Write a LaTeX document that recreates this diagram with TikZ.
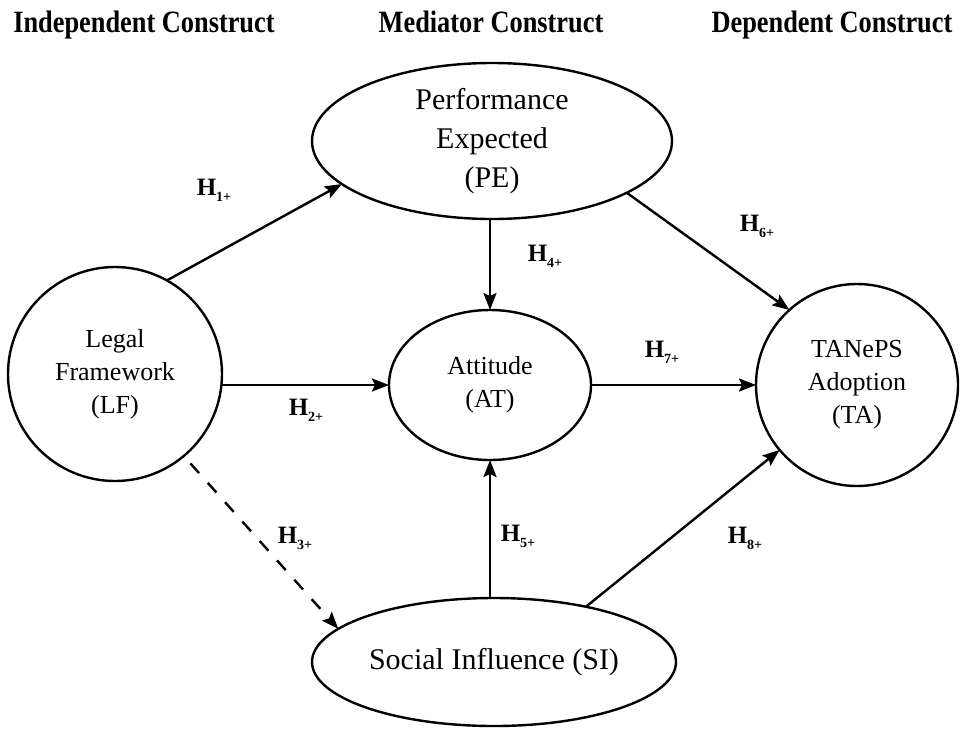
\documentclass[tikz,border=0pt]{standalone}
\usepackage{fontspec}
\setmainfont{Liberation Serif}
\newfontfamily\headfont{Liberation Serif}[FakeStretch=0.85]
\usetikzlibrary{arrows.meta,shapes.geometric}
\newcommand\hyp[1]{{\fontsize{25}{25}\selectfont\bfseries H}\raisebox{-6pt}{\fontsize{14}{14}\selectfont\bfseries #1}}
\begin{document}
\begin{tikzpicture}[x=1pt,y=-1pt,
  box/.style={draw, line width=2.4pt, inner sep=0pt, outer sep=0pt, align=center},
  ell/.style={box, ellipse},
  circ/.style={box, circle},
  big/.style={font=\fontsize{30}{39}\selectfont},
  small/.style={font=\fontsize{26}{33}\selectfont},
  arr/.style={line width=2.4pt, -{Stealth[length=17pt,width=13pt,inset=3pt]}},
  dasharr/.style={arr, dash pattern=on 13pt off 13pt},
  hlab/.style={inner sep=0pt},
  head/.style={inner sep=0pt, anchor=base, font=\headfont\bfseries\fontsize{31}{35}\selectfont}]
\useasboundingbox (0,0) rectangle (963,729);
\node[head] (hi) at (144,32) {Independent Construct};
\node[head] (hm) at (491,32) {Mediator Construct};
\node[head] (hd) at (832,32) {Dependent Construct};

\node[ell, big, minimum width=360pt, minimum height=156pt] (PE) at (492,141) {Performance\\Expected\\(PE)};
\node[circ, small, minimum size=214pt] (LF) at (115,374) {Legal\\Framework\\(LF)};
\node[ell, small, minimum width=202pt, minimum height=150pt] (AT) at (490,385) {Attitude\\(AT)};
\node[circ, small, minimum size=202pt] (TA) at (857,385) {TANePS\\Adoption\\(TA)};
\node[ell, big, minimum width=364pt, minimum height=128pt] (SI) at (494,662) {Social Influence (SI)};

\draw[arr] (LF.61) -- (PE.196);
\draw[arr] (LF.east |- AT.west) -- (AT.west);
\draw[dasharr, shorten <=10pt] (LF.-50) -- (SI.168);
\draw[arr] (AT.north |- PE.south) -- (AT.north);
\draw[arr] (AT.south |- SI.north) -- (AT.south);
\draw[arr] (PE.-21) -- (TA.132);
\draw[arr] (AT.east) -- (TA.west);
\draw[arr] (SI.31) -- (TA.220);

\node[hlab] (l1) at (214,190) {\hyp{1+}};
\node[hlab] (l2) at (306,410) {\hyp{2+}};
\node[hlab] (l3) at (295,538) {\hyp{3+}};
\node[hlab] (l4) at (545,256) {\hyp{4+}};
\node[hlab] (l5) at (518,536) {\hyp{5+}};
\node[hlab] (l6) at (757,226) {\hyp{6+}};
\node[hlab] (l7) at (662,352) {\hyp{7+}};
\node[hlab] (l8) at (745,538) {\hyp{8+}};
\end{tikzpicture}
\end{document}
